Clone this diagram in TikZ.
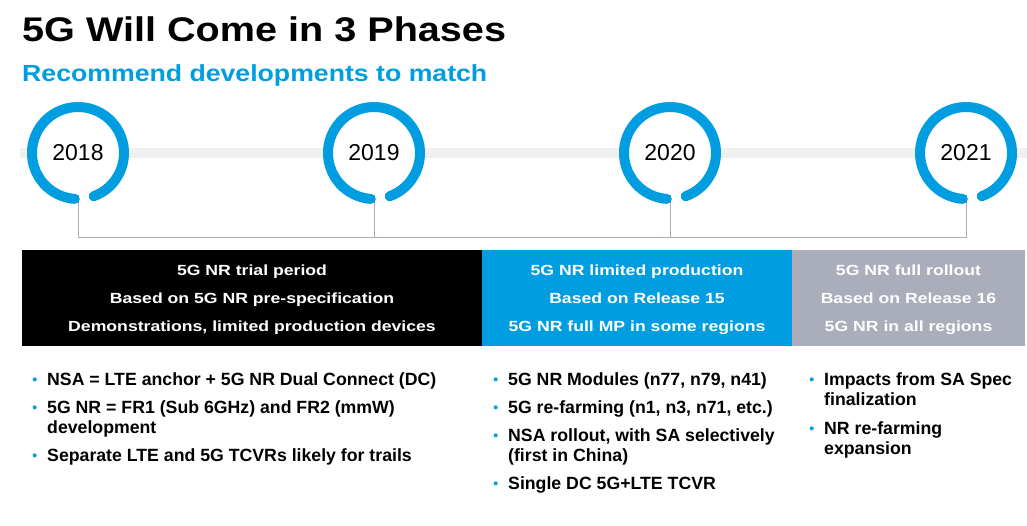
\documentclass[tikz,border=0pt]{standalone}
\usepackage{fontspec}
\setmainfont{Liberation Sans}
\usepackage{graphicx}
\definecolor{hblue}{RGB}{0,158,224}
\definecolor{hgray}{RGB}{170,173,186}
\definecolor{bandgray}{RGB}{240,240,240}
\newcommand{\bul}{\llap{\textcolor{hblue}{\fontsize{14}{14}\selectfont\raisebox{0.3pt}{•}}\hspace{10pt}}}
\begin{document}
\begin{tikzpicture}[x=1pt,y=-1pt,
  year/.style={circle, fill=white, minimum size=84pt, inner sep=0pt, font=\fontsize{23}{23}\selectfont},
  ring/.style={draw=hblue, line width=10pt, line cap=round},
  conn/.style={draw=hgray, line width=1pt},
  phase/.style={inner sep=0pt, minimum height=96pt, text=white, font=\fontsize{14.7}{28}\selectfont\bfseries},
  bitem/.style={anchor=base west, inner sep=0pt, font=\fontsize{17.7}{20}\selectfont\bfseries}
]
\useasboundingbox (0,0) rectangle (1027,525);
\fill[white] (0,0) rectangle (1027,525);

% titles
\node[anchor=base west, inner sep=0pt, font=\fontsize{34.2}{40}\selectfont\bfseries] (title) at (22,41.5) {\scalebox{1.158}[1]{5G Will Come in 3 Phases}};
\node[anchor=base west, inner sep=0pt, text=hblue, font=\fontsize{23.3}{26}\selectfont\bfseries] (subtitle) at (22,81) {\scalebox{1.144}[1]{Recommend developments to match}};

% band
\fill[bandgray] (20,148) rectangle (1027,158);

% year nodes
\node[year] (y2018) at (78,153) {2018};
\node[year] (y2019) at (374,153) {2019};
\node[year] (y2020) at (670,153) {2020};
\node[year] (y2021) at (966,153) {2021};

% connectors
\coordinate (hline) at (0,237);
\draw[conn] (y2018.south) -- (y2018.south |- hline) -| (y2021.south);
\draw[conn] (y2019.south) -- (y2019.south |- hline);
\draw[conn] (y2020.south) -- (y2020.south |- hline);

% rings (canvas angles: -70 is lower right)
\foreach \n in {y2018,y2019,y2020,y2021}{
  \draw[ring] ([shift={(-70:46pt)}]\n.center) arc[start angle=-70, end angle=266, radius=46pt];
}

% phase boxes
\node[phase, fill=black, minimum width=460pt] (p1) at (252,298) {\scalebox{1.2}[1]{\begin{tabular}{@{}c@{}}5G NR trial period\\Based on 5G NR pre-specification\\Demonstrations, limited production devices\end{tabular}}};
\node[phase, fill=hblue, minimum width=310pt] (p2) at (637,298) {\scalebox{1.2}[1]{\begin{tabular}{@{}c@{}}5G NR limited production\\Based on Release 15\\5G NR full MP in some regions\end{tabular}}};
\node[phase, fill=hgray, minimum width=233pt] (p3) at (908.5,298) {\scalebox{1.2}[1]{\begin{tabular}{@{}c@{}}5G NR full rollout\\Based on Release 16\\5G NR in all regions\end{tabular}}};

% bullets column 1
\node[bitem] (a1) at (47,385) {\bul NSA = LTE anchor + 5G NR Dual Connect (DC)};
\node[bitem] (a2) at (47,413) {\bul\begin{tabular}[t]{@{}l@{}}5G NR = FR1 (Sub 6GHz) and FR2 (mmW)\\development\end{tabular}};
\node[bitem] (a3) at (47,461) {\bul Separate LTE and 5G TCVRs likely for trails};

% bullets column 2
\node[bitem] (b1) at (508,385) {\bul 5G NR Modules (n77, n79, n41)};
\node[bitem] (b2) at (508,413) {\bul 5G re-farming (n1, n3, n71, etc.)};
\node[bitem] (b3) at (508,441) {\bul\begin{tabular}[t]{@{}l@{}}NSA rollout, with SA selectively\\(first in China)\end{tabular}};
\node[bitem] (b4) at (508,489) {\bul Single DC 5G+LTE TCVR};

% bullets column 3
\node[bitem] (c1) at (824,385) {\bul\begin{tabular}[t]{@{}l@{}}Impacts from SA Spec\\finalization\end{tabular}};
\node[bitem] (c2) at (824,434) {\bul\begin{tabular}[t]{@{}l@{}}NR re-farming\\expansion\end{tabular}};
\end{tikzpicture}
\end{document}
